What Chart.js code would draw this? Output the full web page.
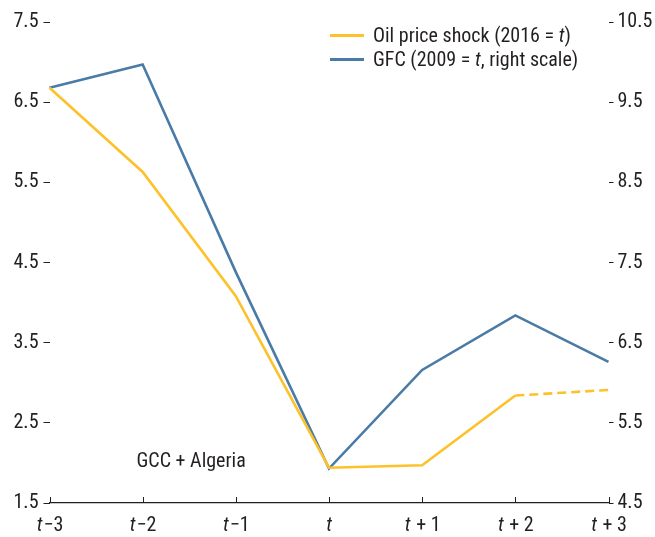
<!DOCTYPE html>
<html>
<head>
<meta charset="utf-8">
<script src="https://cdn.jsdelivr.net/npm/chart.js@4.4.1/dist/chart.umd.min.js"></script>
<style>
  html,body{ margin:0; padding:0; background:#fff; }
  .wrap{ position:relative; width:655px; height:537px; }
  .legend{ position:absolute; left:330px; top:23px; font-family:'Liberation Sans Narrow','Roboto Condensed',Roboto,sans-serif; font-size:20px; color:#231f20; line-height:24px; }
  .legend .row{ display:flex; align-items:center; white-space:nowrap; }
  .legend .swatch{ display:inline-block; width:34px; height:3px; margin-right:9px; }
</style>
</head>
<body>
<div class="wrap">
  <canvas id="chart"></canvas>
  <div class="legend">
    <div class="row"><span class="swatch" style="background:#FDC12A"></span><span>Oil price shock (2016 = <i>t</i>)</span></div>
    <div class="row"><span class="swatch" style="background:#4A7BA7"></span><span>GFC (2009 = <i>t</i>, right scale)</span></div>
  </div>
</div>
<script>
(function(){

  const FONT = "'Liberation Sans Narrow','Roboto Condensed',Roboto,sans-serif";
  const INK = '#231f20';
  const SIZE = 20;

  // data
  const periods = ['t−3','t−2','t−1','t','t + 1','t + 2','t + 3'];
  const oilShock = [6.68, 5.63, 4.08, 1.94, 1.97, 2.84, 2.91];   // left scale
  const gfc      = [9.68, 9.97, 7.38, 4.93, 6.16, 6.84, 6.26];   // right scale
  const leftTicks  = [1.5, 2.5, 3.5, 4.5, 5.5, 6.5, 7.5];
  const rightTicks = [4.5, 5.5, 6.5, 7.5, 8.5, 9.5, 10.5];
  const projectedFrom = 5; // oil series dashed after t+2

  const extras = {
    id:'extras',
    afterDraw(chart){
      const ctx = chart.ctx;
      const x = chart.scales.x;
      const area = chart.chartArea;
      ctx.save();
      // upward tick marks on the x axis
      ctx.strokeStyle = INK;
      ctx.lineWidth = 1;
      periods.forEach((p, i) => {
        const px = Math.round(x.getPixelForTick(i)) + 0.5;
        ctx.beginPath();
        ctx.moveTo(px, area.bottom);
        ctx.lineTo(px, area.bottom - 6);
        ctx.stroke();
      });
      // category labels, italic t
      ctx.fillStyle = INK;
      ctx.textBaseline = 'middle';
      ctx.textAlign = 'left';
      periods.forEach((p, i) => {
        const head = p.slice(0,1), tail = p.slice(1);
        ctx.font = 'italic ' + SIZE + 'px ' + FONT;
        const w1 = ctx.measureText(head).width;
        ctx.font = SIZE + 'px ' + FONT;
        const w2 = ctx.measureText(tail).width;
        const start = x.getPixelForTick(i) - (w1 + w2) / 2;
        ctx.font = 'italic ' + SIZE + 'px ' + FONT;
        ctx.fillText(head, start, area.bottom + 23);
        ctx.font = SIZE + 'px ' + FONT;
        ctx.fillText(tail, start + w1 + 1, area.bottom + 23);
      });
      // panel note
      ctx.font = SIZE + 'px ' + FONT;
      ctx.fillText('GCC + Algeria', area.left + 87, area.bottom - 41);
      ctx.restore();
    }
  };

  const tickFont = { family:FONT, size:SIZE };

  new Chart(document.getElementById('chart'), {
    type:'line',
    data:{
      labels:periods,
      datasets:[{
        label:'Oil price shock (2016 = t)',
        data:oilShock,
        yAxisID:'y',
        borderColor:'#FDC12A',
        borderWidth:2.6,
        pointRadius:0,
        tension:0,
        segment:{ borderDash: c => c.p0DataIndex >= projectedFrom ? [9,5] : undefined }
      },{
        label:'GFC (2009 = t, right scale)',
        data:gfc,
        yAxisID:'y1',
        borderColor:'#4A7BA7',
        borderWidth:2.6,
        pointRadius:0,
        tension:0
      }]
    },
    options:{
      responsive:true, maintainAspectRatio:false, animation:false,
      layout:{ padding:{ top:22, left:0, right:0, bottom:0 } },
      plugins:{ legend:{ display:false }, tooltip:{ enabled:false } },
      scales:{
        x:{
          type:'category', offset:false,
          grid:{ display:false },
          border:{ display:true, color:INK, width:1.2 },
          ticks:{ display:false },
          afterFit: s => { s.height = 34; }
        },
        y:{
          position:'left', min:1.5, max:7.5,
          afterBuildTicks: s => { s.ticks = leftTicks.map(v => ({ value:v })); },
          grid:{ drawOnChartArea:false, tickLength:6, color:INK, lineWidth:1 },
          border:{ display:false },
          ticks:{ font:tickFont, color:INK, padding:5, callback: v => v.toFixed(1) },
          afterFit: s => { s.width = 49.5; }
        },
        y1:{
          position:'right', min:4.5, max:10.5,
          afterBuildTicks: s => { s.ticks = rightTicks.map(v => ({ value:v })); },
          grid:{ drawOnChartArea:false, tickLength:5, color:INK, lineWidth:1 },
          border:{ display:false },
          ticks:{ font:tickFont, color:INK, padding:4, callback: v => v.toFixed(1) },
          afterFit: s => { s.width = 46.5; }
        }
      }
    },
    plugins:[extras]
  });

})();
</script>
</body>
</html>
